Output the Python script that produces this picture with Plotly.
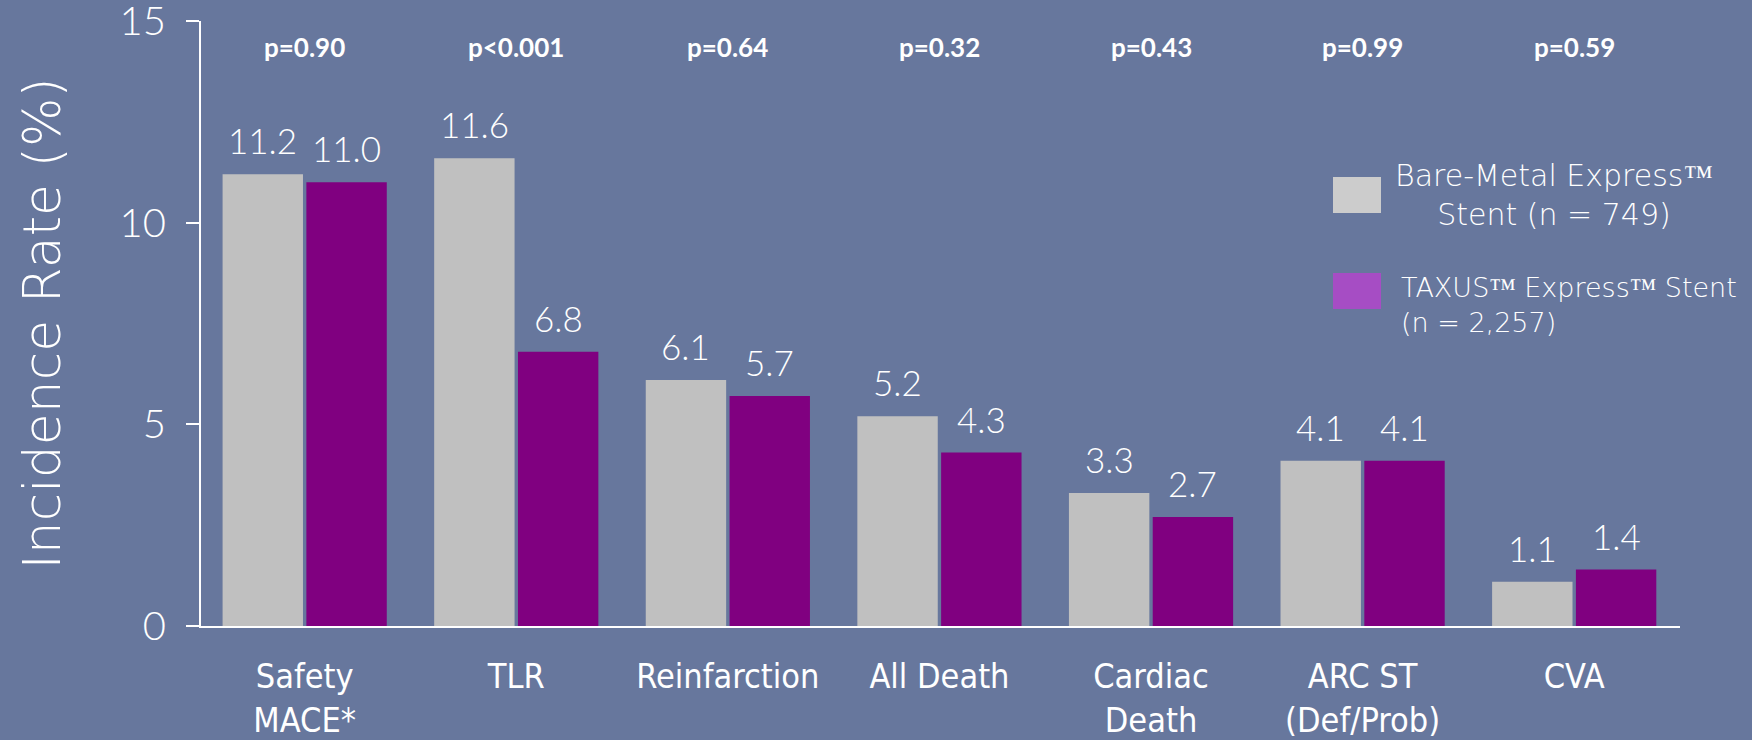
import plotly.graph_objects as go

categories = ["Safety<br>MACE*", "TLR", "Reinfarction", "All Death", "Cardiac<br>Death", "ARC ST<br>(Def/Prob)", "CVA"]
bare_metal = [11.2, 11.6, 6.1, 5.2, 3.3, 4.1, 1.1]
taxus = [11.0, 6.8, 5.7, 4.3, 2.7, 4.1, 1.4]
p_values = ["p=0.90", "p<0.001", "p=0.64", "p=0.32", "p=0.43", "p=0.99", "p=0.59"]
legend_bm = "Bare-Metal Express™<br>Stent (n = 749)"
legend_tx = "TAXUS™ Express™ Stent<br>(n = 2,257)"
y_ticks = [0, 5, 10, 15]

BG = "#67779D"
GRAY = "#C0C0C0"
PURPLE = "#800080"
LEG_GRAY = "#CCCCCC"
LEG_PURPLE = "#A64DC4"
NUM_FONT = "Lato"
THIN_FONT = "DejaVu Sans"
CAT_FONT = "DejaVu Sans Condensed, Roboto Condensed, Liberation Sans Narrow, Roboto"

xs = list(range(len(categories)))
W = 0.38
OFF_G = -0.388
OFF_P = 0.008

# plot area in pixels (for paper coordinates of the hand-drawn legend)
L, R, T, B = 201, 72, 21, 114
PW, PH = 1752 - L - R, 740 - T - B


def px(x):
    return (x - L) / PW


def py(y):
    return (740 - B - y) / PH


fig = go.Figure()
fig.add_trace(go.Bar(x=xs, y=bare_metal, width=W, offset=OFF_G, marker=dict(color=GRAY, line=dict(width=0)),
                     name="Bare-Metal Express™ Stent (n = 749)", showlegend=False, hoverinfo="y"))
fig.add_trace(go.Bar(x=xs, y=taxus, width=W, offset=OFF_P, marker=dict(color=PURPLE, line=dict(width=0)),
                     name="TAXUS™ Express™ Stent (n = 2,257)", showlegend=False, hoverinfo="y"))

lbl_font = dict(family=NUM_FONT, size=35, color="white", weight=300)
ann = []
for i, (a, b) in enumerate(zip(bare_metal, taxus)):
    ann.append(dict(x=i + OFF_G + W / 2, y=a, text=f"{a:.1f}", showarrow=False, yanchor="bottom", yshift=11,
                    font=lbl_font))
    ann.append(dict(x=i + OFF_P + W / 2, y=b, text=f"{b:.1f}", showarrow=False, yanchor="bottom", yshift=11,
                    font=lbl_font))
    ann.append(dict(x=i, y=14.35, text=p_values[i], showarrow=False, yanchor="middle",
                    font=dict(family=NUM_FONT, size=26, color="white", weight=700)))

# legend drawn as swatches + text
shapes = [
    dict(type="rect", xref="paper", yref="paper", x0=px(1333), x1=px(1381), y0=py(213), y1=py(177),
         fillcolor=LEG_GRAY, line=dict(width=0)),
    dict(type="rect", xref="paper", yref="paper", x0=px(1333), x1=px(1381), y0=py(309), y1=py(273),
         fillcolor=LEG_PURPLE, line=dict(width=0)),
]
ann.append(dict(xref="paper", yref="paper", x=px(1554), y=py(195), xanchor="center", yanchor="middle",
                align="center", text=legend_bm, showarrow=False,
                font=dict(family=THIN_FONT, size=30, color="white", weight=200)))
ann.append(dict(xref="paper", yref="paper", x=px(1399), y=py(305), xanchor="left", yanchor="middle",
                align="left", text=legend_tx, showarrow=False,
                font=dict(family=THIN_FONT, size=27, color="white", weight=200)))

fig.update_layout(
    width=1752, height=740,
    margin=dict(l=L, r=R, t=T, b=B),
    paper_bgcolor=BG, plot_bgcolor=BG,
    barmode="overlay",
    annotations=ann, shapes=shapes,
    xaxis=dict(range=[-0.49, 6.5], tickvals=xs, ticktext=categories, showgrid=False, zeroline=False,
               showline=True, linecolor="white", linewidth=2, ticks="", ticklabelstandoff=19, automargin=False,
               ticklabeloverflow="allow",
               tickfont=dict(family=CAT_FONT, size=34, color="white")),
    yaxis=dict(range=[0, 15], tickvals=y_ticks, showgrid=False, zeroline=False, showline=True,
               linecolor="white", linewidth=2, ticks="outside", ticklen=13, tickcolor="white", tickwidth=2,
               automargin=False, ticklabeloverflow="allow", ticklabelstandoff=12,
               tickfont=dict(family=NUM_FONT, size=40, color="white", weight=300),
               title=dict(text="Incidence Rate (%)", standoff=42,
                          font=dict(family=THIN_FONT, size=52, color="white", weight=200))),
    showlegend=False,
)

fig.write_html("out.html", config={"displayModeBar": False}, post_script=(
    "document.documentElement.style.margin='0';document.body.style.margin='0';"
    "document.body.style.background='%s';document.body.style.overflow='hidden';" % BG))
